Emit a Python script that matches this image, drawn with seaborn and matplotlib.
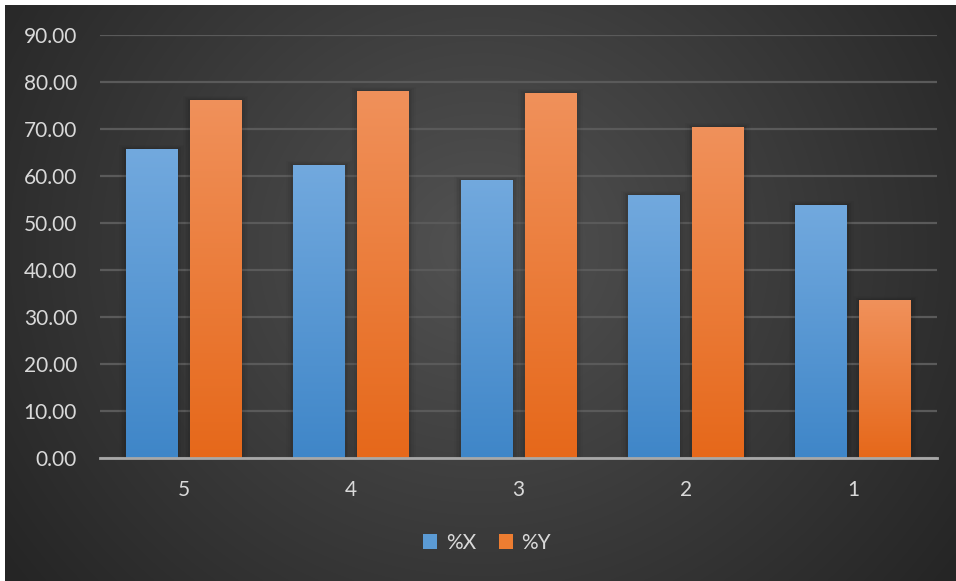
import numpy as np
import pandas as pd
import matplotlib
matplotlib.use("Agg")
import matplotlib.pyplot as plt
from matplotlib.patches import Rectangle
import seaborn as sns

# Values per category
categories = ["5", "4", "3", "2", "1"]
pct_x = [65.7, 62.3, 59.1, 56.0, 53.8]
pct_y = [76.2, 78.1, 77.7, 70.4, 33.6]
series_names = ["%X", "%Y"]
y_ticks = [0, 10, 20, 30, 40, 50, 60, 70, 80, 90]

df = pd.DataFrame({
    "cat": categories * 2,
    "val": pct_x + pct_y,
    "series": [series_names[0]] * len(categories) + [series_names[1]] * len(categories),
})

# Gradient colours (top, bottom) per series
grad = {
    "%X": ("#72a9de", "#3f86c8"),
    "%Y": ("#f0915b", "#e6681a"),
}
swatch = {"%X": "#5b9bd5", "%Y": "#ed7d31"}
text_color = "#d9d9d9"

sns.set_theme(style="dark")
plt.rcParams["font.family"] = ["Lato", "DejaVu Sans"]

W, H = 956, 581
fig = plt.figure(figsize=(W / 100, H / 100), dpi=100)
fig.patch.set_facecolor("white")

# Radial background for the chart area
bg = fig.add_axes([5 / W, 0, 1 - 5 / W, 1 - 5 / H])
bg.set_axis_off()
ny, nx = 300, 500
yy, xx = np.mgrid[0:ny, 0:nx]
cx, cy = nx * 0.5, ny * 0.42
r = np.sqrt(((xx - cx) / (nx * 0.62)) ** 2 + ((yy - cy) / (ny * 0.95)) ** 2)
r = np.clip(r, 0, 1)
inner = np.array([0x52, 0x52, 0x52]) / 255
outer = np.array([0x25, 0x25, 0x25]) / 255
img = inner[None, None, :] * (1 - r[..., None]) + outer[None, None, :] * r[..., None]
bg.imshow(img, aspect="auto", extent=[0, 1, 0, 1], interpolation="bilinear")
bg.set_xlim(0, 1)
bg.set_ylim(0, 1)

# Plot area
left, right = 100 / W, 937 / W
top, bottom = 35 / H, 458 / H
ax = fig.add_axes([left, 1 - bottom, right - left, bottom - top])
ax.patch.set_alpha(0)

sns.barplot(data=df, x="cat", y="val", hue="series", order=categories,
            hue_order=series_names, palette=swatch, width=0.765, gap=0.19,
            ax=ax, legend=False, zorder=3)

ax.set_ylim(0, 90)
ax.set_xlim(-0.5, len(categories) - 0.5)
ax.set_yticks(y_ticks)
ax.set_yticklabels([f"{v:.2f}" for v in y_ticks])
ax.grid(axis="y", color="#5a5a5a", linewidth=1.6, zorder=0)
ax.grid(axis="x", visible=False)
ax.set_xlabel("")
ax.set_ylabel("")
for s in ["top", "right", "left"]:
    ax.spines[s].set_visible(False)
ax.spines["bottom"].set_color("#a8a8a8")
ax.spines["bottom"].set_linewidth(2)
ax.spines["bottom"].set_zorder(6)
ax.tick_params(axis="both", length=0, colors=text_color, labelsize=15)
ax.tick_params(axis="y", pad=16.5)
ax.tick_params(axis="x", pad=16)

# Vertical gradient fill inside each bar, with a soft shadow behind it
n = len(categories)
for i, patch in enumerate(list(ax.patches)):
    name = series_names[i // n]
    x0, y0 = patch.get_x(), patch.get_y()
    w, h = patch.get_width(), patch.get_height()
    for k, a in enumerate([0.06, 0.045, 0.03, 0.02]):
        off = 0.01 * (k + 1)
        sh = Rectangle((x0 - off, y0), w + 2 * off, h + off * 22,
                       facecolor="black", alpha=a, edgecolor="none", zorder=2)
        ax.add_patch(sh)
    c_top = np.array(matplotlib.colors.to_rgb(grad[name][0]))
    c_bot = np.array(matplotlib.colors.to_rgb(grad[name][1]))
    t = np.linspace(0, 1, 256)[:, None]
    g = (c_top * (1 - t) + c_bot * t)[:, None, :].repeat(2, axis=1)
    im = ax.imshow(g, extent=[x0, x0 + w, y0, y0 + h], aspect="auto",
                   zorder=4, interpolation="bilinear")
    im.set_clip_path(patch)
    patch.set_edgecolor("none")

ax.set_xlim(-0.5, len(categories) - 0.5)
ax.set_ylim(0, 90)

# Legend below the plot
handles = [Rectangle((0, 0), 1, 1, facecolor=swatch[s], edgecolor="none") for s in series_names]
leg = fig.legend(handles, series_names, loc="center", bbox_to_anchor=(487 / W, 1 - 543 / H),
                 ncol=2, frameon=False, fontsize=15, handlelength=0.7, handleheight=0.7,
                 handletextpad=0.4, columnspacing=1.1)
for txt in leg.get_texts():
    txt.set_color(text_color)

fig.savefig("out.png", dpi=100, facecolor=fig.get_facecolor())
